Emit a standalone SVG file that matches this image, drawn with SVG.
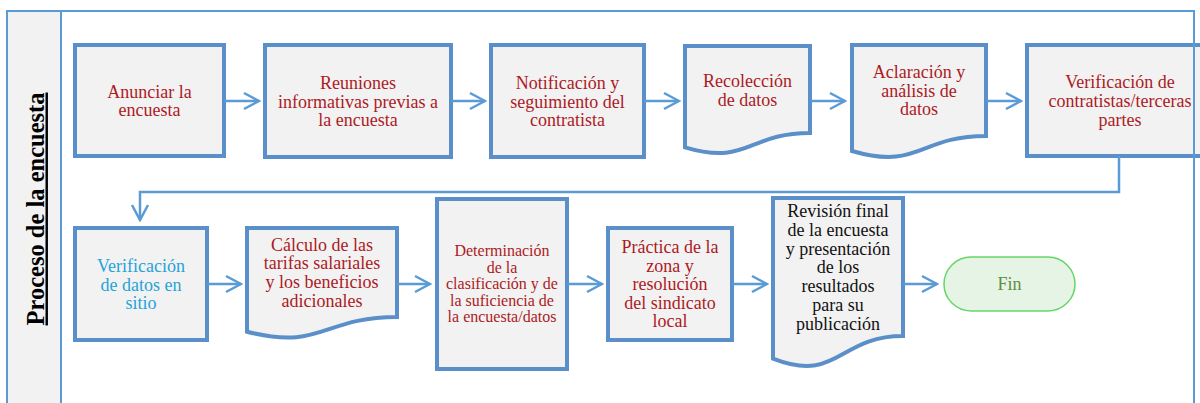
<svg xmlns="http://www.w3.org/2000/svg" width="1200" height="403" viewBox="0 0 1200 403">
<style>
.box{fill:#f2f2f2;stroke:#5b8fc9;stroke-width:4}
.t{font-family:"Liberation Serif","Times New Roman",serif;font-size:18px;text-anchor:middle;fill:#ad1a1f}
.s{font-size:16px}
.blue{fill:#27a3d8}
.blk{fill:#111}
.con{fill:none;stroke:#5b9bd5;stroke-width:2.5}
.frame{fill:none;stroke:#5b9bd5;stroke-width:2}
</style>
<defs>
<marker id="arr" markerUnits="userSpaceOnUse" markerWidth="20" markerHeight="20" viewBox="-18 -10 20 20" refX="0" refY="0" orient="auto">
<path d="M-15,-8 L0,0 L-15,8" fill="none" stroke="#5b9bd5" stroke-width="2.5"/>
</marker>
</defs>
<rect x="7" y="11" width="54" height="400" fill="#f2f2f2"/>
<g id="lane-title">
<text transform="translate(43.5,209) rotate(-90)" style="font-family:'Liberation Serif','Times New Roman',serif;font-size:24.5px;font-weight:bold;text-anchor:middle;text-decoration:underline;fill:#000">Proceso de la encuesta</text>
</g>
<g id="n1"><rect class="box" x="75" y="45" width="149" height="111"/>
<text class="t"><tspan x="149.5" y="98">Anunciar la</tspan><tspan x="149.5" y="116">encuesta</tspan></text></g>
<g id="n2"><rect class="box" x="265" y="45" width="186" height="112"/>
<text class="t"><tspan x="358" y="89">Reuniones</tspan><tspan x="358" y="107.5">informativas previas a</tspan><tspan x="358" y="126">la encuesta</tspan></text></g>
<g id="n3"><rect class="box" x="491" y="45" width="153" height="112"/>
<text class="t"><tspan x="567.5" y="89">Notificación y</tspan><tspan x="567.5" y="107.5">seguimiento del</tspan><tspan x="567.5" y="126">contratista</tspan></text></g>
<g id="n4"><path class="box" d="M685,46 H810 V133 C747.5,133 747.5,166 685,147.3 Z"/>
<text class="t"><tspan x="747.5" y="87">Recolección</tspan><tspan x="747.5" y="106">de datos</tspan></text></g>
<g id="n5"><path class="box" d="M852,45 H986 V136 C919,136 919,170.6 852,151 Z"/>
<text class="t"><tspan x="919" y="78">Aclaración y</tspan><tspan x="919" y="97">análisis de</tspan><tspan x="919" y="115">datos</tspan></text></g>
<g id="n6"><rect class="box" x="1027" y="45" width="190" height="111"/>
<text class="t"><tspan x="1120" y="88">Verificación de</tspan><tspan x="1120" y="107">contratistas/terceras</tspan><tspan x="1120" y="126">partes</tspan></text></g>
<g id="n7"><rect class="box" x="75" y="228" width="132" height="112"/>
<text class="t blue"><tspan x="141" y="272">Verificación</tspan><tspan x="141" y="291">de datos en</tspan><tspan x="141" y="309">sitio</tspan></text></g>
<g id="n8"><path class="box" d="M247,228 H397 V317 C322,317 322,350.9 247,331.7 Z"/>
<text class="t"><tspan x="322" y="251">Cálculo de las</tspan><tspan x="322" y="269">tarifas salariales</tspan><tspan x="322" y="288">y los beneficios</tspan><tspan x="322" y="307">adicionales</tspan></text></g>
<g id="n9"><rect class="box" x="437" y="199" width="130" height="170"/>
<text class="t s"><tspan x="502" y="256">Determinación</tspan><tspan x="502" y="273">de la</tspan><tspan x="502" y="289">clasificación y de</tspan><tspan x="502" y="306">la suficiencia de</tspan><tspan x="502" y="322">la encuesta/datos</tspan></text></g>
<g id="n10"><rect class="box" x="608" y="228" width="124" height="112"/>
<text class="t"><tspan x="670" y="253">Práctica de la</tspan><tspan x="670" y="272">zona y</tspan><tspan x="670" y="290">resolución</tspan><tspan x="670" y="309">del sindicato</tspan><tspan x="670" y="327">local</tspan></text></g>
<g id="n11"><path class="box" d="M773,198 H903 V336 C838,336 838,384 773,358.7 Z"/>
<text class="t blk"><tspan x="838" y="217">Revisión final</tspan><tspan x="838" y="236">de la encuesta</tspan><tspan x="838" y="255">y presentación</tspan><tspan x="838" y="273">de los</tspan><tspan x="838" y="292">resultados</tspan><tspan x="838" y="311">para su</tspan><tspan x="838" y="330">publicación</tspan></text></g>
<g id="n12"><rect x="944" y="257" width="131" height="54" rx="27" ry="27" fill="#e6f4e6" stroke="#66d666" stroke-width="1.5"/>
<text class="t" style="fill:#5e8f3b" x="1009.5" y="290">Fin</text></g>
<g id="connectors">
<line class="con" x1="224" y1="101" x2="259" y2="101" marker-end="url(#arr)"/>
<line class="con" x1="451" y1="101" x2="485" y2="101" marker-end="url(#arr)"/>
<line class="con" x1="644" y1="101" x2="679" y2="101" marker-end="url(#arr)"/>
<line class="con" x1="810" y1="101" x2="845" y2="101" marker-end="url(#arr)"/>
<line class="con" x1="986" y1="101" x2="1021" y2="101" marker-end="url(#arr)"/>
<polyline class="con" points="1119,156 1119,192 140,192 140,220" marker-end="url(#arr)"/>
<line class="con" x1="207" y1="284" x2="241" y2="284" marker-end="url(#arr)"/>
<line class="con" x1="397" y1="284" x2="430" y2="284" marker-end="url(#arr)"/>
<line class="con" x1="567" y1="284" x2="602" y2="284" marker-end="url(#arr)"/>
<line class="con" x1="732" y1="284" x2="767" y2="284" marker-end="url(#arr)"/>
<line class="con" x1="903" y1="284" x2="937" y2="284" marker-end="url(#arr)"/>
</g>
<g id="frame">
<polyline class="frame" points="7,410 7,11 1194,11 1194,410"/>
<line class="frame" x1="61" y1="11" x2="61" y2="410"/>
</g>
</svg>
